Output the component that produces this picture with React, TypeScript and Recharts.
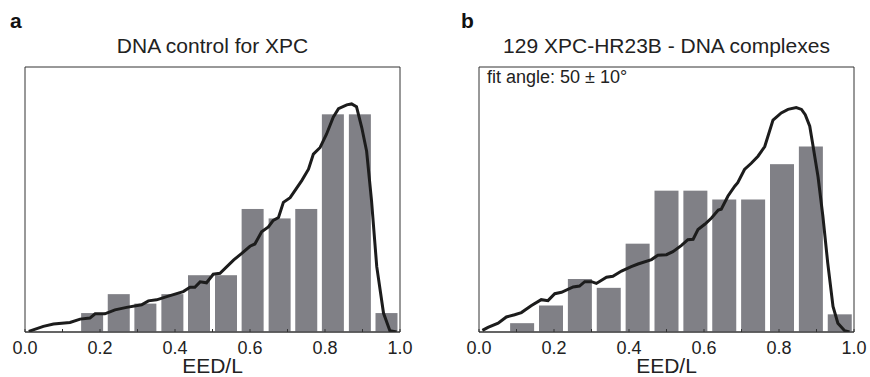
import { Bar, ComposedChart, Label, Line, ReferenceArea, XAxis, YAxis } from 'recharts'

// histogram bins (bin centres on EED/L) and counts
const binsA = [0.036, 0.107, 0.179, 0.25, 0.321, 0.393, 0.464, 0.536, 0.607, 0.679, 0.75, 0.821, 0.893, 0.964]
const countsA = [0, 0, 2, 4, 3, 4, 6, 6, 13, 12, 13, 23, 23, 2]

const binsB = [0.038, 0.115, 0.192, 0.269, 0.346, 0.423, 0.5, 0.577, 0.654, 0.731, 0.808, 0.885, 0.962]
const countsB = [0, 1, 3, 6, 5, 10, 16, 16, 15, 15, 19, 21, 2]

// simulated fit curves
const fitAX = [0.01, 0.049, 0.076, 0.12, 0.147, 0.173, 0.187, 0.213, 0.24, 0.271, 0.311, 0.329, 0.351, 0.378, 0.422, 0.44, 0.453, 0.467, 0.484, 0.502, 0.52, 0.556, 0.578, 0.6, 0.613, 0.631, 0.649, 0.662, 0.676, 0.689, 0.707, 0.738, 0.756, 0.769, 0.787, 0.804, 0.822, 0.836, 0.858, 0.871, 0.884, 0.898, 0.911, 0.924, 0.938, 0.956, 0.973, 0.991]
const fitAY = [0.07, 0.6, 0.84, 1.0, 1.36, 1.47, 1.92, 1.92, 2.34, 2.6, 2.87, 3.29, 3.4, 3.74, 4.27, 4.72, 4.72, 5.3, 5.2, 6.1, 6.2, 7.6, 8.3, 9.06, 9.3, 10.6, 11.1, 11.8, 12.1, 13.7, 14.2, 16.0, 17.2, 18.8, 19.5, 20.9, 22.7, 23.6, 24.0, 24.1, 23.8, 21.6, 19.1, 13.9, 6.9, 2.0, 0.14, 0]

const fitBX = [0.009, 0.024, 0.051, 0.073, 0.095, 0.113, 0.14, 0.166, 0.184, 0.202, 0.22, 0.251, 0.268, 0.282, 0.3, 0.313, 0.34, 0.357, 0.38, 0.406, 0.424, 0.46, 0.477, 0.5, 0.517, 0.54, 0.557, 0.571, 0.584, 0.602, 0.62, 0.638, 0.646, 0.664, 0.682, 0.69, 0.708, 0.726, 0.744, 0.762, 0.784, 0.806, 0.824, 0.846, 0.86, 0.87, 0.882, 0.891, 0.904, 0.917, 0.93, 0.944, 0.957, 0.975, 0.988]
const fitBY = [0.19, 0.53, 1.0, 1.7, 1.96, 2.2, 3.0, 3.66, 3.55, 4.34, 4.5, 5.1, 5.2, 5.7, 5.7, 5.5, 6.2, 6.3, 6.9, 7.4, 7.7, 8.2, 8.7, 8.75, 9.1, 9.8, 10.45, 10.5, 11.6, 12.2, 12.9, 13.8, 13.9, 15.4, 16.5, 16.9, 18.4, 19.1, 19.9, 21.0, 24.0, 24.8, 25.2, 25.4, 25.2, 24.6, 23.3, 21.0, 17.6, 13.1, 7.8, 2.9, 1.0, 0.15, 0]

const xTicks = [0, 0.1, 0.2, 0.3, 0.4, 0.5, 0.6, 0.7, 0.8, 0.9, 1.0]

const FONT = '"Liberation Sans", Arial, Helvetica, sans-serif'
const BAR = '#808086'
const INK = '#1c1c1c'

function EedTick(props: any) {
  const { x, y, payload } = props
  const v = payload.value as number
  const major = Math.round(v * 10) % 2 === 0
  return (
    <g>
      <line x1={x} x2={x} y1={y} y2={y - 3} stroke="#333" />
      {major && (
        <text x={x} y={y + 22} textAnchor="middle" fontSize={18} fill="#222" fontFamily={FONT}>
          {v.toFixed(1)}
        </text>
      )}
    </g>
  )
}

// the line's dense x values shrink the numeric band, so widen each bar around its centre
const wideBar = (w: number) => (props: any) => {
  const { x, width, y, height } = props
  if (!height || height <= 0) return <g />
  const cx = x + width / 2
  return <rect x={cx - w / 2} y={y} width={w} height={height} fill={BAR} />
}

function Panel({ bins, counts, fx, fy, yMax, left, right, barSize }: {
  bins: number[]; counts: number[]; fx: number[]; fy: number[]; yMax: number; left: number; right: number; barSize: number
}) {
  const bars = bins.map((x, i) => ({ x, n: counts[i] }))
  const fit = fx.map((x, i) => ({ x, f: fy[i] }))
  return (
    <ComposedChart width={435} height={377} data={bars} margin={{ top: 67, left, right, bottom: 0 }}>
      <XAxis dataKey="x" type="number" domain={[0, 1]} ticks={xTicks} allowDataOverflow
        height={45} tickSize={0} tickMargin={0} tickLine={false} stroke="#333" tick={EedTick} interval={0}>
        <Label value="EED/L" position="insideBottom" offset={4} fontSize={21} fill="#222" fontFamily={FONT} />
      </XAxis>
      <YAxis type="number" domain={[0, yMax]} hide allowDataOverflow />
      <ReferenceArea x1={0} x2={1} y1={0} y2={yMax} fill="none" stroke="#333" strokeWidth={1} />
      <Bar dataKey="n" fill={BAR} shape={wideBar(barSize)} isAnimationActive={false} />
      <Line data={fit} dataKey="f" type="linear" stroke={INK} strokeWidth={3} dot={false} isAnimationActive={false} />
    </ComposedChart>
  )
}

export default function App() {
  return (
    <div style={{ position: 'absolute', left: 0, top: 0, width: 870, height: 377, background: '#fff', fontFamily: FONT }}>
      <div style={{ position: 'absolute', left: 0, top: 0 }}>
        <Panel bins={binsA} counts={countsA} fx={fitAX} fy={fitAY} yMax={28} left={25} right={35} barSize={22} />
      </div>
      <div style={{ position: 'absolute', left: 435, top: 0 }}>
        <Panel bins={binsB} counts={countsB} fx={fitBX} fy={fitBY} yMax={30} left={44} right={16} barSize={24} />
      </div>
      <svg width={870} height={377} style={{ position: 'absolute', left: 0, top: 0, pointerEvents: 'none' }} fontFamily={FONT}>
        <text x={10} y={28} fontSize={21} fontWeight="bold" fill="#111">a</text>
        <text x={461} y={28} fontSize={21} fontWeight="bold" fill="#111">b</text>
        <text x={212.5} y={53} fontSize={21} textAnchor="middle" fill="#222">DNA control for XPC</text>
        <text x={666.5} y={53} fontSize={21} textAnchor="middle" fill="#222">129 XPC-HR23B - DNA complexes</text>
        <text x={487} y={83} fontSize={18} fill="#222">fit angle: 50 ± 10°</text>
      </svg>
    </div>
  )
}
